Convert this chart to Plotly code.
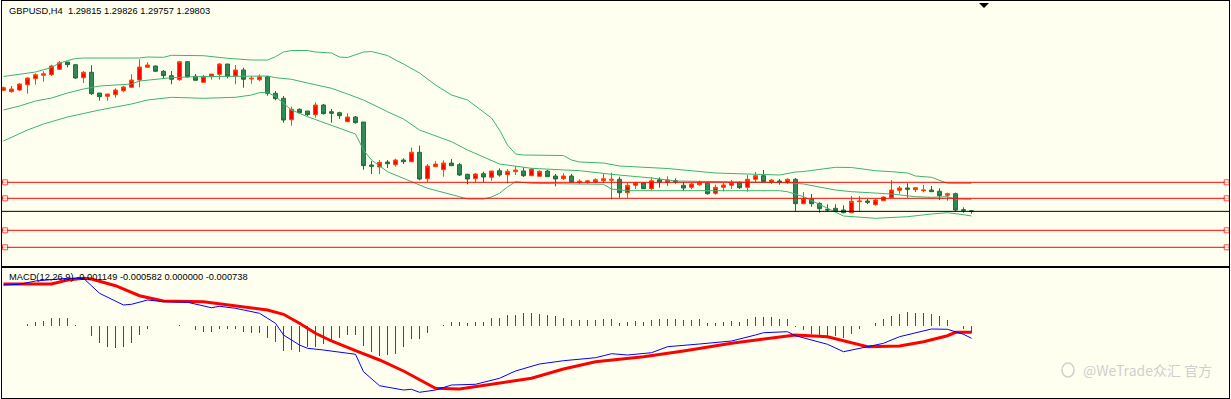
import plotly.graph_objects as go

# ---------------- data ----------------
BAR_INDEX = list(range(122))

OPEN = [1.32224, 1.32196, 1.3223, 1.32336, 1.32456, 1.32524, 1.32536, 1.32644, 1.3279, 1.32736,
        1.32476, 1.32584, 1.3217, 1.32104, 1.32136, 1.32216, 1.32284, 1.3243, 1.32684, 1.3271,
        1.32604, 1.32516, 1.32436, 1.32796, 1.32504, 1.32384, 1.32496, 1.32544, 1.3275, 1.3251,
        1.3263, 1.3245, 1.32436, 1.32496, 1.32164, 1.32064, 1.31636, 1.31844, 1.3181, 1.31736,
        1.3193, 1.31796, 1.31776, 1.31596, 1.3169, 1.3159, 1.3073, 1.3069, 1.3079, 1.30736,
        1.3083, 1.30796, 1.30984, 1.30456, 1.30696, 1.30636, 1.3077, 1.30736, 1.30544, 1.30456,
        1.30556, 1.30484, 1.30616, 1.30536, 1.30596, 1.3061, 1.30516, 1.30504, 1.3061, 1.3051,
        1.30456, 1.3051, 1.30384, 1.3039, 1.3039, 1.30416, 1.30424, 1.30444, 1.30176, 1.30324,
        1.3037, 1.30256, 1.30436, 1.30384, 1.30416, 1.30324, 1.30284, 1.30336, 1.30364, 1.30164,
        1.30284, 1.30324, 1.30376, 1.30284, 1.30444, 1.30516, 1.30384, 1.3041, 1.30376, 1.30444,
        1.29956, 1.3005, 1.29964, 1.29844, 1.29864, 1.2983, 1.29776, 1.29996, 1.3001, 1.29936,
        1.30016, 1.30076, 1.30224, 1.3027, 1.30236, 1.30216, 1.3023, 1.30204, 1.30124, 1.30156,
        1.29836, 1.29815]
HIGH = [1.3230, 1.3231, 1.32364, 1.32484, 1.32564, 1.32604, 1.32736, 1.3281, 1.3279, 1.3275,
        1.3261, 1.32724, 1.3217, 1.3215, 1.32264, 1.3231, 1.32544, 1.32844, 1.32784, 1.3272,
        1.3263, 1.3261, 1.32816, 1.3281, 1.3255, 1.3253, 1.3255, 1.3277, 1.3275, 1.3273,
        1.32676, 1.3251, 1.32544, 1.3251, 1.3221, 1.3211, 1.31896, 1.31864, 1.3181, 1.31984,
        1.3195, 1.3185, 1.31796, 1.31764, 1.3171, 1.3159, 1.3081, 1.3083, 1.3083, 1.30856,
        1.30864, 1.31076, 1.31116, 1.3075, 1.3081, 1.30824, 1.3085, 1.3077, 1.30556, 1.3057,
        1.30596, 1.3061, 1.30664, 1.3065, 1.3071, 1.30684, 1.30664, 1.30624, 1.3063, 1.3055,
        1.30564, 1.3055, 1.30444, 1.3043, 1.30464, 1.3055, 1.30576, 1.30496, 1.30376, 1.30384,
        1.30376, 1.30484, 1.30484, 1.30504, 1.30464, 1.3039, 1.3037, 1.30416, 1.30364, 1.30336,
        1.3037, 1.3043, 1.30404, 1.3053, 1.3059, 1.3063, 1.3045, 1.3045, 1.30464, 1.3047,
        1.3019, 1.3015, 1.29984, 1.29944, 1.29944, 1.29924, 1.3011, 1.3011, 1.3005, 1.3005,
        1.3010, 1.3043, 1.3031, 1.30364, 1.30276, 1.3033, 1.3031, 1.30264, 1.30176, 1.30176,
        1.29884, 1.29826]
LOW = [1.3221, 1.32176, 1.3221, 1.32156, 1.32336, 1.32396, 1.3251, 1.3263, 1.32684, 1.32456,
       1.3237, 1.3213, 1.32016, 1.32016, 1.32076, 1.32184, 1.32276, 1.32284, 1.32676, 1.3260,
       1.3247, 1.32344, 1.32416, 1.32476, 1.32424, 1.32384, 1.32436, 1.32436, 1.32464, 1.32344,
       1.32276, 1.32356, 1.32404, 1.32116, 1.32024, 1.31576, 1.31516, 1.3175, 1.3171, 1.31676,
       1.3174, 1.31576, 1.3165, 1.31596, 1.31556, 1.30636, 1.3055, 1.3055, 1.3067, 1.30696,
       1.3075, 1.3079, 1.30424, 1.3039, 1.30696, 1.30496, 1.30716, 1.3051, 1.30344, 1.30384,
       1.30384, 1.30416, 1.30496, 1.30364, 1.3053, 1.3049, 1.3051, 1.30496, 1.30496, 1.30304,
       1.3043, 1.30384, 1.30344, 1.30356, 1.30364, 1.30376, 1.30044, 1.30076, 1.30076, 1.3025,
       1.3025, 1.3023, 1.30276, 1.3031, 1.30356, 1.3021, 1.30244, 1.30316, 1.30136, 1.30136,
       1.30204, 1.3025, 1.3025, 1.30196, 1.3039, 1.3039, 1.3035, 1.30336, 1.3035, 1.2981,
       1.29944, 1.29896, 1.29776, 1.2981, 1.29796, 1.29764, 1.29764, 1.2979, 1.2995, 1.29916,
       1.30016, 1.30076, 1.30156, 1.30076, 1.3019, 1.30184, 1.30196, 1.3003, 1.30016, 1.29796,
       1.29776, 1.29757]
CLOSE = [1.32276, 1.3225, 1.3235, 1.3247, 1.32536, 1.32556, 1.3271, 1.32776, 1.32736, 1.3247,
         1.32584, 1.32156, 1.32096, 1.3215, 1.3223, 1.3229, 1.3243, 1.3269, 1.3273, 1.32604,
         1.32516, 1.32444, 1.32796, 1.32496, 1.32424, 1.32504, 1.3255, 1.3275, 1.3251, 1.3263,
         1.32444, 1.32464, 1.32496, 1.32164, 1.32056, 1.3163, 1.31844, 1.31776, 1.31736, 1.3193,
         1.31756, 1.31764, 1.31716, 1.3169, 1.31576, 1.30716, 1.30704, 1.30784, 1.30756, 1.3083,
         1.30796, 1.30984, 1.3045, 1.3071, 1.3075, 1.3077, 1.30716, 1.3053, 1.3045, 1.3055,
         1.3049, 1.3061, 1.3053, 1.30604, 1.3063, 1.30516, 1.3065, 1.30604, 1.30496, 1.3045,
         1.3051, 1.3039, 1.30404, 1.3041, 1.30436, 1.30456, 1.30444, 1.30176, 1.30324, 1.30376,
         1.30256, 1.30416, 1.3039, 1.3043, 1.3039, 1.3027, 1.3035, 1.30376, 1.30156, 1.30284,
         1.3033, 1.30376, 1.30276, 1.30444, 1.30516, 1.30396, 1.3043, 1.30384, 1.30444, 1.29956,
         1.30056, 1.29956, 1.29856, 1.2983, 1.2981, 1.29776, 1.30004, 1.3001, 1.29984, 1.3003,
         1.3009, 1.3023, 1.3027, 1.30244, 1.30276, 1.3023, 1.30196, 1.30116, 1.30156, 1.2983,
         1.29824, 1.29803]

BB_UPPER_IDX = [0, 2, 4, 6, 7, 8, 9, 10, 17, 18, 20, 21, 25, 28, 31, 33, 34, 35, 36, 38, 39, 41, 42,
                43, 44, 45, 46, 47, 48, 49, 50, 52, 54, 56, 58, 61, 62, 63, 64, 65, 70, 71, 72, 75, 77,
                83, 89, 97, 99, 100, 102, 104, 106, 109, 111, 113, 114, 116, 118, 121]
BB_UPPER = [1.3250, 1.3255, 1.3259, 1.3268, 1.3277, 1.32816, 1.3286, 1.3287, 1.3287, 1.3289, 1.32884,
            1.32924, 1.32916, 1.32864, 1.3283, 1.3283, 1.32896, 1.3299, 1.3302, 1.3302, 1.3299, 1.3297,
            1.3289, 1.3288, 1.3293, 1.3299, 1.3300, 1.3296, 1.3292, 1.3283, 1.3275, 1.3257, 1.3233,
            1.3213, 1.3203, 1.3167, 1.3143, 1.3113, 1.3095, 1.3093, 1.3092, 1.3083, 1.3079, 1.3077,
            1.3071, 1.3066, 1.3057, 1.3053, 1.3059, 1.3060, 1.3064, 1.30684, 1.3068, 1.30616,
            1.30596, 1.3057, 1.3051, 1.30484, 1.30364, 1.30364]
BB_MIDDLE_IDX = [0, 2, 4, 6, 8, 10, 12, 14, 16, 17, 19, 21, 24, 29, 33, 34, 36, 38, 41, 43, 45, 48, 50,
                 52, 56, 58, 61, 62, 66, 72, 76, 81, 84, 96, 98, 100, 102, 104, 106, 109, 111, 114, 116,
                 118, 119, 121]
BB_MIDDLE = [1.3183, 1.3191, 1.3201, 1.3207, 1.3217, 1.3225, 1.3231, 1.32324, 1.3235, 1.3241, 1.3244,
             1.32476, 1.32496, 1.3250, 1.3251, 1.32476, 1.32444, 1.3237, 1.32264, 1.3215, 1.3203,
             1.31796, 1.3165, 1.3143, 1.31196, 1.3103, 1.3083, 1.3075, 1.30664, 1.30616, 1.30544,
             1.3047, 1.3041, 1.3039, 1.30376, 1.3035, 1.30296, 1.3023, 1.30196, 1.30164, 1.3015,
             1.30096, 1.30084, 1.30096, 1.3005, 1.30044]
BB_LOWER_IDX = [0, 3, 5, 8, 12, 16, 18, 21, 25, 29, 31, 32, 33, 34, 35, 36, 38, 40, 44, 45, 46, 48, 51,
                53, 57, 58, 60, 61, 62, 63, 64, 66, 72, 75, 76, 78, 97, 98, 100, 103, 105, 109, 113,
                116, 118, 120, 121]
BB_LOWER = [1.3121, 1.3143, 1.3155, 1.3169, 1.3183, 1.3195, 1.3203, 1.32084, 1.32064, 1.32084, 1.3213,
            1.32176, 1.32184, 1.32096, 1.31964, 1.3183, 1.31696, 1.31584, 1.3135, 1.3103, 1.3083,
            1.30596, 1.30396, 1.30264, 1.30096, 1.3005, 1.3005, 1.3009, 1.30164, 1.3029, 1.30396,
            1.30364, 1.3035, 1.30344, 1.3025, 1.30216, 1.30216, 1.30196, 1.30096, 1.29864, 1.2971,
            1.29664, 1.29696, 1.2975, 1.29776, 1.29736, 1.2971]

LEVELS = [1.30384, 1.30064, 1.29424, 1.29084]

MACD_IDX = [0, 2, 4, 6, 8, 10, 12, 15, 16, 18, 20, 23, 26, 27, 29, 32, 34, 35, 37, 38, 40, 44, 45, 47,
            50, 51, 52, 54, 56, 59, 62, 64, 67, 70, 74, 76, 78, 81, 83, 87, 91, 94, 95, 98, 99, 103,
            105, 108, 110, 112, 116, 118, 120, 121]
MACD_MAIN = [0.00287, 0.00292, 0.00315, 0.00322, 0.00334, 0.00334, 0.00229, 0.00147, 0.00152, 0.00182,
             0.00170, 0.00166, 0.00128, 0.00138, 0.00124, 0.00089, 0.00019, -0.00063, -0.00133,
             -0.00156, -0.00168, -0.00198, -0.00320, -0.00418, -0.00448, -0.00443, -0.00464, -0.00448,
             -0.00413, -0.00408, -0.00366, -0.00315, -0.00266, -0.00243, -0.00222, -0.00194, -0.00203,
             -0.00187, -0.00145, -0.00126, -0.00105, -0.00063, -0.00047, -0.00040, -0.00068, -0.00128,
             -0.00180, -0.00145, -0.00121, -0.00075, -0.00021, -0.00023, -0.00058, -0.00086]
SIGNAL_IDX = [0, 6, 8, 10, 11, 14, 17, 20, 25, 29, 33, 35, 37, 39, 41, 44, 47, 50, 54, 57, 59, 62, 66,
              70, 74, 80, 85, 91, 97, 99, 103, 106, 108, 112, 115, 118, 119, 121]
SIGNAL = [0.00294, 0.00294, 0.00322, 0.00334, 0.00329, 0.00282, 0.00212, 0.00175, 0.00170, 0.00142,
          0.00112, 0.00082, 0.00019, -0.00051, -0.00105, -0.00173, -0.00238, -0.00315, -0.00436,
          -0.00441, -0.00425, -0.00401, -0.00366, -0.00301, -0.00250, -0.00215, -0.00175, -0.00121,
          -0.00075, -0.00063, -0.00075, -0.00114, -0.00145, -0.00140, -0.00110, -0.00068, -0.00044,
          -0.00044]
HIST = [0.0, 0.0, 0.000035, 0.00012, 0.00026, 0.00035, 0.00054, 0.00058, 0.00054, 0.00007,
        0.00002, -0.00068, -0.00117, -0.00145, -0.00156, -0.00145, -0.00117, -0.00063, -0.00021, 0.0,
        0.00002, 0.00002, 0.00007, 0.0, -0.00028, -0.0004, -0.0004, -0.00021, -0.00023, -0.00023,
        -0.0004, -0.00047, -0.00047, -0.00082, -0.0011, -0.00175, -0.00168, -0.00184, -0.00145, -0.00145,
        -0.00126, -0.00105, -0.00082, -0.00063, -0.00063, -0.00138, -0.00184, -0.00208, -0.00203, -0.00198,
        -0.00145, -0.00091, -0.00091, -0.00051, 0.00002, 0.00007, 0.00026, 0.00026, 0.00019, 0.00026,
        0.0003, 0.00054, 0.00056, 0.00077, 0.00077, 0.00093, 0.00093, 0.00086, 0.00077, 0.0007,
        0.00054, 0.0004, 0.0004, 0.0004, 0.0004, 0.00047, 0.00047, 0.00023, 0.0003, 0.00035,
        0.0003, 0.0004, 0.00051, 0.00051, 0.00047, 0.0004, 0.0004, 0.00047, 0.00023, 0.00023,
        0.0003, 0.00035, 0.0003, 0.00047, 0.00063, 0.00063, 0.00063, 0.00051, 0.00047, -0.00004,
        -0.0003, -0.00054, -0.00065, -0.0007, -0.0007, -0.00082, -0.00058, -0.00019, 0.0, 0.00019,
        0.00047, 0.0007, 0.00086, 0.00098, 0.00093, 0.00093, 0.00082, 0.0007, 0.0004, 0.0,
        -0.00023, -0.00049]

TITLE = "GBPUSD,H4\u00a0 1.29815 1.29826 1.29757 1.29803"
MACD_TITLE = "MACD(12,26,9) -0.001149 -0.000582 0.000000 -0.000738"
WATERMARK = "@WeTrade众汇 官方"

# ---------------- layout constants ----------------
W, H = 1231, 399
BG = "#FFFFF0"
X_RANGE = [-0.1875, 153.1875]
PRICE_RANGE = [1.2872, 1.3401]
MACD_RANGE = [-0.00504, 0.004095]
LEVEL_MARK_X = [0.2, 152.9]


def fx(px):
    return px / W


def fy(py):
    return 1 - py / H


fig = go.Figure()

# Bollinger bands
for idx, vals in ((BB_UPPER_IDX, BB_UPPER), (BB_MIDDLE_IDX, BB_MIDDLE), (BB_LOWER_IDX, BB_LOWER)):
    fig.add_trace(go.Scatter(x=idx, y=vals, mode="lines", xaxis="x", yaxis="y",
                             line=dict(color="#3CB371", width=1), hoverinfo="skip"))

# candles
fig.add_trace(go.Candlestick(
    x=BAR_INDEX, open=OPEN, high=HIGH, low=LOW, close=CLOSE, xaxis="x", yaxis="y",
    increasing=dict(line=dict(color="#FF4500", width=1), fillcolor="#FF0000"),
    decreasing=dict(line=dict(color="#1F6F3A", width=1), fillcolor="#2E8B57"),
    whiskerwidth=0, hoverinfo="skip"))

# horizontal levels with end handles
for lv in LEVELS:
    fig.add_trace(go.Scatter(
        x=[X_RANGE[0], LEVEL_MARK_X[0], LEVEL_MARK_X[1], X_RANGE[1]], y=[lv] * 4,
        mode="lines+markers", xaxis="x", yaxis="y", cliponaxis=True,
        line=dict(color="#FF0000", width=1),
        marker=dict(symbol="square", size=[0, 5, 5, 0], color=BG,
                    line=dict(color="#FF0000", width=1)),
        hoverinfo="skip"))

# bid line
fig.add_trace(go.Scatter(x=X_RANGE, y=[CLOSE[-1]] * 2, mode="lines", xaxis="x", yaxis="y",
                         line=dict(color="#000000", width=1), hoverinfo="skip"))

# MACD histogram
fig.add_trace(go.Bar(x=BAR_INDEX, y=HIST, width=0.125, xaxis="x2", yaxis="y2",
                     marker=dict(color=["#FF0000" if v >= 0 else "#008000" for v in HIST],
                                 line=dict(width=0)),
                     hoverinfo="skip"))
fig.add_trace(go.Scatter(x=SIGNAL_IDX, y=SIGNAL, mode="lines", xaxis="x2", yaxis="y2",
                         line=dict(color="#FF0000", width=3), hoverinfo="skip"))
fig.add_trace(go.Scatter(x=MACD_IDX, y=MACD_MAIN, mode="lines", xaxis="x2", yaxis="y2",
                         line=dict(color="#0000FF", width=1), hoverinfo="skip"))

axis_common = dict(showticklabels=False, ticks="", showgrid=False, zeroline=False,
                   showline=True, mirror=True, linecolor="#000000", linewidth=1, fixedrange=True)

fig.update_layout(
    width=W, height=H, margin=dict(l=0, r=0, t=0, b=0),
    paper_bgcolor="#FFFFFF", plot_bgcolor=BG, showlegend=False, hovermode=False,
    bargap=0,
    xaxis=dict(domain=[fx(2), fx(1229)], range=X_RANGE, anchor="y",
               rangeslider=dict(visible=False), **axis_common),
    yaxis=dict(domain=[fy(265.5), fy(1)], range=PRICE_RANGE, anchor="x", **axis_common),
    xaxis2=dict(domain=[fx(2), fx(1229)], range=X_RANGE, anchor="y2", **axis_common),
    yaxis2=dict(domain=[fy(398), fy(267.5)], range=MACD_RANGE, anchor="x2", **axis_common),
    annotations=[
        dict(text=TITLE, xref="paper", yref="paper", x=fx(7), y=fy(4), xanchor="left",
             yanchor="top", showarrow=False, font=dict(family="Liberation Sans", size=9.3, color="#000000")),
        dict(text=MACD_TITLE, xref="paper", yref="paper", x=fx(7), y=fy(269.5), xanchor="left",
             yanchor="top", showarrow=False, font=dict(family="Liberation Sans", size=9.3, color="#000000")),
        dict(text=WATERMARK, xref="paper", yref="paper", x=fx(1081), y=fy(370), xanchor="left",
             yanchor="middle", showarrow=False,
             font=dict(family="Noto Sans CJK SC", size=14, color="#CFCFCF")),
    ],
    shapes=[
        dict(type="path", xref="paper", yref="paper",
             path="M {} {} L {} {} L {} {} Z".format(fx(979), fy(3), fx(989), fy(3), fx(984), fy(8)),
             fillcolor="#000000", line=dict(width=0)),
        dict(type="circle", xref="paper", yref="paper", x0=fx(1062), x1=fx(1074), y0=fy(377),
             y1=fy(363), line=dict(color="#D0D0D0", width=1.5)),
    ],
)

fig.write_html(
    "out.html",
    config={"displayModeBar": False, "staticPlot": True},
    post_script="document.body.style.margin='0';document.body.style.overflow='hidden';",
)
